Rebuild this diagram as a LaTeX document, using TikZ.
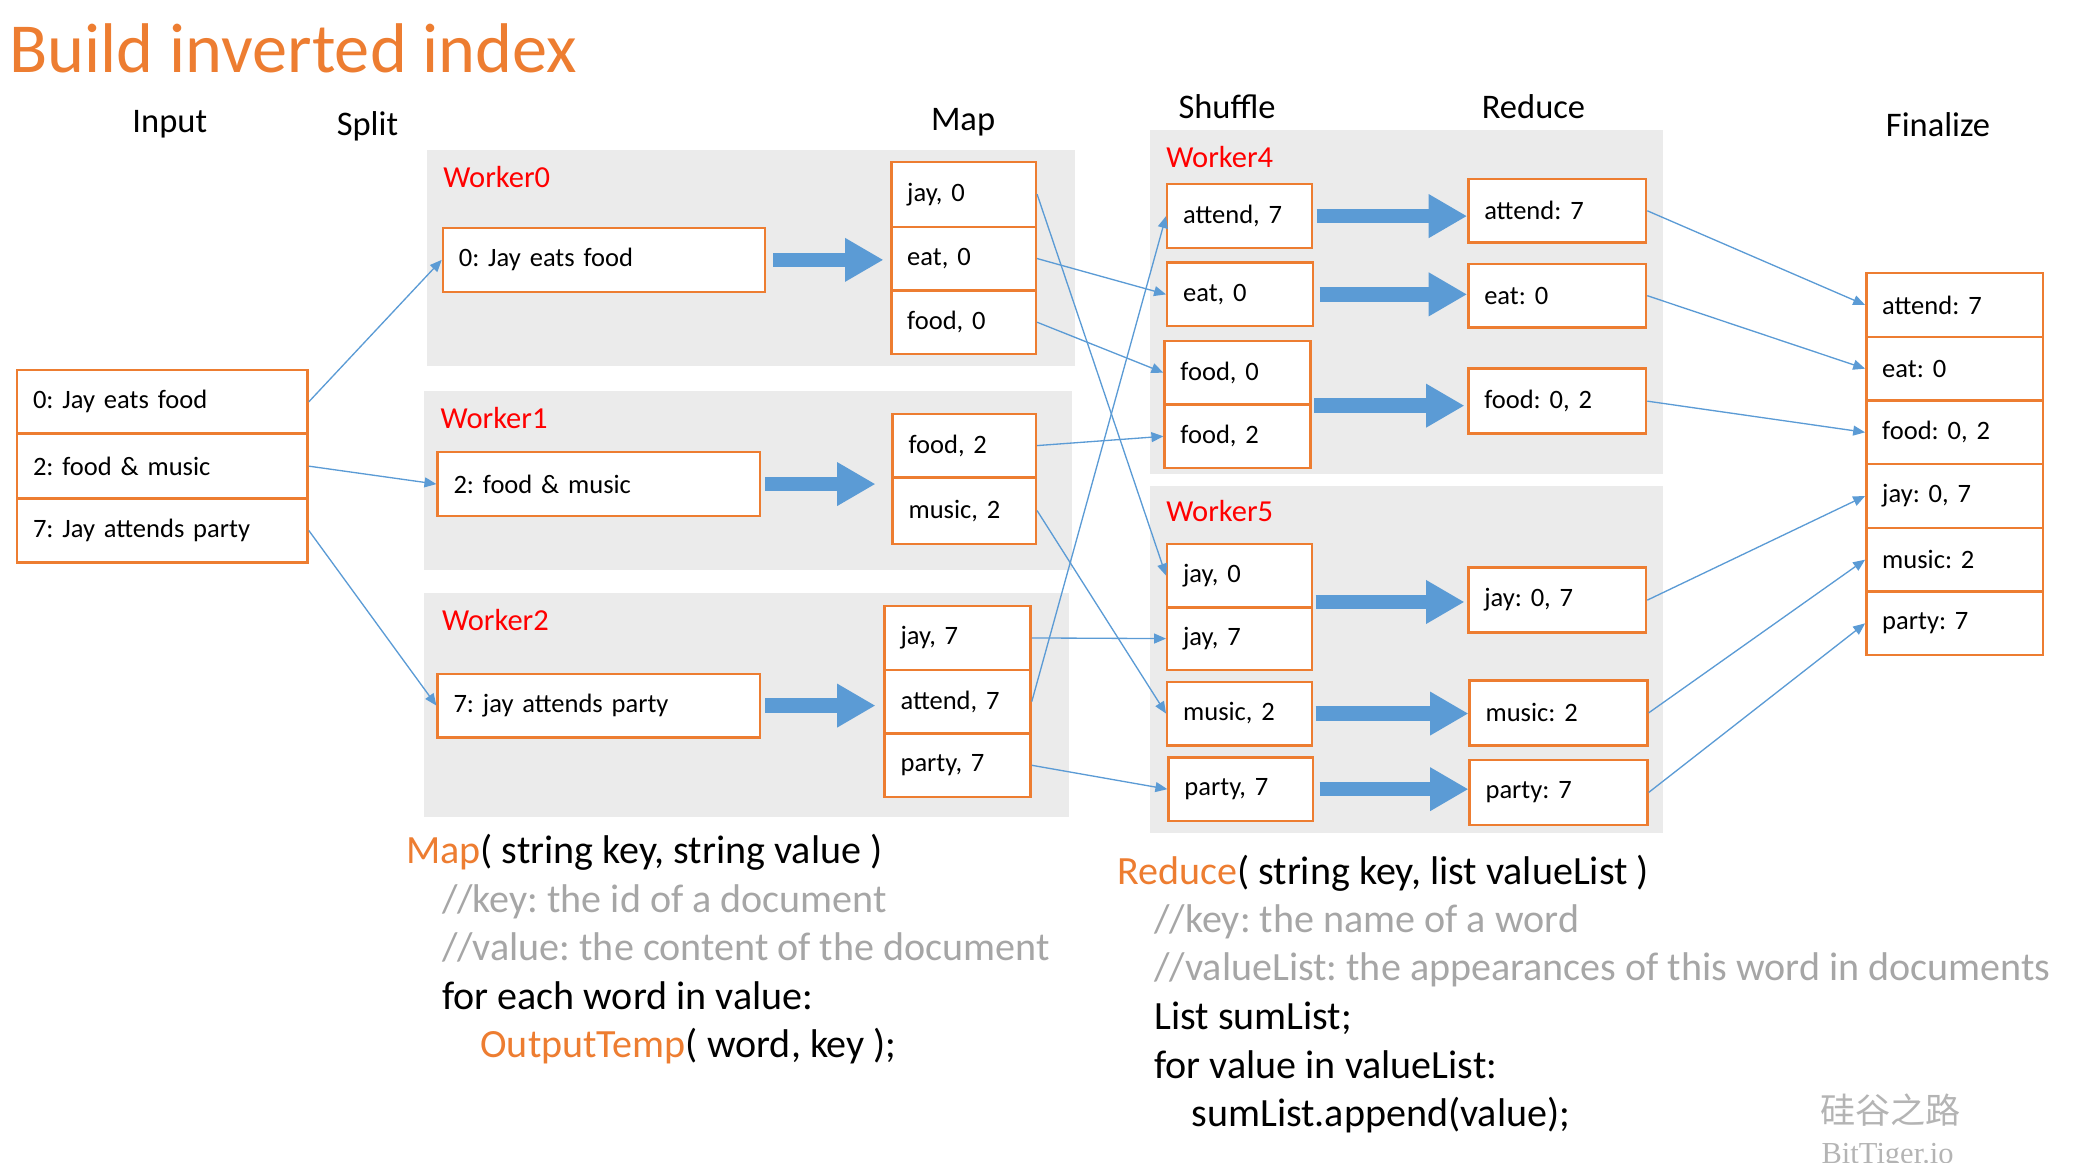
\documentclass[tikz,border=0pt]{standalone}
\usepackage{fontspec}
\setmainfont{Carlito}
\newfontfamily\cjkfont{Noto Sans CJK SC}
\newfontfamily\wmserif{Liberation Serif}
\usetikzlibrary{arrows.meta,calc}
\frenchspacing
\definecolor{orangeT}{HTML}{ED7D31}
\definecolor{boxorange}{HTML}{ED7D31}
\definecolor{redW}{HTML}{FF0000}
\definecolor{panelgray}{HTML}{EBEBEB}
\definecolor{blueA}{HTML}{5B9BD5}
\definecolor{commentgray}{HTML}{A6A6A6}
\definecolor{wmgray}{HTML}{B4B4B4}
\tikzset{
  bx/.style 2 args={draw=boxorange, line width=1.8pt, fill=white, anchor=north west,
    inner xsep=12pt, inner ysep=0pt, align=left, text width=#1, minimum height=#2,
    font=\fontsize{20}{24}\selectfont},
  panel/.style={fill=panelgray, draw=none},
  worker/.style={anchor=base west, text=redW, font=\fontsize{23}{27}\selectfont, inner sep=0pt},
  header/.style={anchor=base, font=\fontsize{26}{30}\selectfont, inner sep=0pt},
  codeline/.style={anchor=base west, font=\fontsize{30.2}{36}\selectfont, inner sep=0pt},
  comment/.style={codeline, text=commentgray},
  thin/.style={draw=blueA, line width=1pt, -{Triangle[length=9pt,width=7.5pt]}},
  blockarrow/.style={draw=blueA, line width=11pt, -{Triangle[length=29pt,width=31pt]}},
}
\begin{document}
\begin{tikzpicture}[x=1pt,y=-1pt]
\useasboundingbox (0,0) rectangle (1568,876);

% title
\node[anchor=base west, inner sep=0pt, text=orangeT, font=\fontsize{53}{60}\selectfont] (title) at (7,55) {Build inverted index};

% headers
\node[header] (hinput) at (128,100) {Input};
\node[header] (hsplit) at (277,102) {Split};
\node[header] (hmap) at (726,98) {Map};
\node[header] (hshuffle) at (925,89) {Shuffle};
\node[header] (hreduce) at (1156,89) {Reduce};
\node[header] (hfinal) at (1461,103) {Finalize};

% panels
\fill[panel] (322,113) rectangle (810,276);
\fill[panel] (320,295) rectangle (808,430);
\fill[panel] (320,447) rectangle (806,616);
\fill[panel] (867,98) rectangle (1254,357);
\fill[panel] (867,366) rectangle (1254,628);

\node[worker] (w0) at (334,141) {Worker0};
\node[worker] (w1) at (332,323) {Worker1};
\node[worker] (w2) at (333,475) {Worker2};
\node[worker] (w4) at (879,126) {Worker4};
\node[worker] (w5) at (879,393) {Worker5};

% input
\node[bx={195pt}{48pt}] (in0) at (12,278) {0: Jay eats food};
\node[bx={195pt}{49pt}] (in1) at (12,326) {2: food \& music};
\node[bx={195pt}{48pt}] (in2) at (12,375) {7: Jay attends party};

% splits
\node[bx={219pt}{48pt}] (sp0) at (333,171) {0: Jay eats food};
\node[bx={219pt}{48pt}] (sp1) at (329,340) {2: food \& music};
\node[bx={219pt}{48pt}] (sp2) at (329,507) {7: jay attends party};

% map outputs
\node[bx={85pt}{49pt}] (m00) at (671,121) {jay, 0};
\node[bx={85pt}{48pt}] (m01) at (671,170) {eat, 0};
\node[bx={85pt}{48pt}] (m02) at (671,218) {food, 0};
\node[bx={84pt}{48pt}] (m10) at (672,311) {food, 2};
\node[bx={84pt}{50pt}] (m11) at (672,359) {music, 2};
\node[bx={86pt}{48pt}] (m20) at (666,456) {jay, 7};
\node[bx={86pt}{48pt}] (m21) at (666,504) {attend, 7};
\node[bx={86pt}{48pt}] (m22) at (666,552) {party, 7};

% shuffle
\node[bx={85pt}{48pt}] (s40) at (879,138) {attend, 7};
\node[bx={86pt}{48pt}] (s41) at (879,197) {eat, 0};
\node[bx={86pt}{48pt}] (s42) at (877,256) {food, 0};
\node[bx={86pt}{48pt}] (s43) at (877,304) {food, 2};
\node[bx={85pt}{48pt}] (s50) at (879,409) {jay, 0};
\node[bx={85pt}{47pt}] (s51) at (879,457) {jay, 7};
\node[bx={85pt}{48pt}] (s52) at (879,513) {music, 2};
\node[bx={85pt}{48pt}] (s53) at (880,570) {party, 7};

% reduce
\node[bx={110pt}{48pt}] (r40) at (1106,134) {attend: 7};
\node[bx={110pt}{48pt}] (r41) at (1106,198) {eat: 0};
\node[bx={110pt}{49pt}] (r42) at (1106,277) {food: 0, 2};
\node[bx={110pt}{49pt}] (r50) at (1106,427) {jay: 0, 7};
\node[bx={110pt}{49pt}] (r51) at (1107,512) {music: 2};
\node[bx={110pt}{49pt}] (r52) at (1107,572) {party: 7};

% finalize
\node[bx={109pt}{48pt}] (f0) at (1406,205) {attend: 7};
\node[bx={109pt}{48pt}] (f1) at (1406,253) {eat: 0};
\node[bx={109pt}{48pt}] (f2) at (1406,301) {food: 0, 2};
\node[bx={109pt}{48pt}] (f3) at (1406,349) {jay: 0, 7};
\node[bx={109pt}{48pt}] (f4) at (1406,397) {music: 2};
\node[bx={109pt}{48pt}] (f5) at (1406,445) {party: 7};

% block arrows
\draw[blockarrow] ([xshift=5pt]sp0.east) -- ([xshift=-5pt]sp0.east -| m01.west);
\draw[blockarrow] ([xshift=3pt]sp1.east) -- ([xshift=-12pt]sp1.east -| m10.west);
\draw[blockarrow] ([xshift=3pt]sp2.east) -- ([xshift=-6pt]sp2.east -| m21.west);
\draw[blockarrow] ([xshift=3pt]s40.east) -- (s40.east -| r40.west);
\draw[blockarrow] ([xshift=4pt]s41.east) -- (s41.east -| r41.west);
\coordinate (g4) at (s42.south east);
\draw[blockarrow] ([xshift=2pt]g4) -- ([xshift=-2pt]g4 -| r42.west);
\coordinate (g5) at (s50.south east);
\draw[blockarrow] ([xshift=2pt,yshift=5pt]g5) -- ([xshift=-2pt,yshift=5pt]g5 -| r50.west);
\draw[blockarrow] ([xshift=2pt]s52.east) -- (s52.east -| r51.west);
\draw[blockarrow] ([xshift=4pt]s53.east) -- (s53.east -| r52.west);

% thin connectors
\draw[thin] (in0.east) -- (sp0.west);
\draw[thin] (in1.east) -- (sp1.west);
\draw[thin] (in2.east) -- (sp2.west);
\draw[thin] (m00.east) -- (s50.west);
\draw[thin] (m01.east) -- (s41.west);
\draw[thin] (m02.east) -- (s42.west);
\draw[thin] (m10.east) -- (s43.west);
\draw[thin] (m11.east) -- (s52.west);
\draw[thin] (m20.east) -- (s51.west);
\draw[thin] (m21.east) -- (s40.west);
\draw[thin] (m22.east) -- (s53.west);
\draw[thin] (r40.east) -- (f0.west);
\draw[thin] (r41.east) -- (f1.west);
\draw[thin] (r42.east) -- (f2.west);
\draw[thin] (r50.east) -- (f3.west);
\draw[thin] (r51.east) -- (f4.west);
\draw[thin] (r52.east) -- (f5.west);

% code: map
\node[codeline] (c1) at (306,651) {\textcolor{orangeT}{Map}( string key, string value )};
\node[comment] (c2) at (333,688) {//key: the id of a document};
\node[comment] (c3) at (333,724) {//value: the content of the document};
\node[codeline] (c4) at (333,761) {for each word in value:};
\node[codeline] (c5) at (362,797) {\textcolor{orangeT}{OutputTemp}( word, key );};

% code: reduce
\node[codeline] (d1) at (842,667) {\textcolor{orangeT}{Reduce}( string key, list valueList )};
\node[comment] (d2) at (870,703) {//key: the name of a word};
\node[comment] (d3) at (870,739) {//valueList: the appearances of this word in documents};
\node[codeline] (d4) at (870,776) {List sumList;};
\node[codeline] (d5) at (870,813) {for value in valueList:};
\node[codeline] (d6) at (898,849) {sumList.append(value);};

% watermark
\node[anchor=base west, inner sep=0pt, text=wmgray, font=\cjkfont\fontsize{26.5}{30}\selectfont] (wm1) at (1372,847) {硅谷之路};
\node[anchor=base west, inner sep=0pt, text=wmgray, font=\wmserif\fontsize{23}{26}\selectfont] (wm2) at (1373,877) {BitTiger.io};
\end{tikzpicture}
\end{document}
